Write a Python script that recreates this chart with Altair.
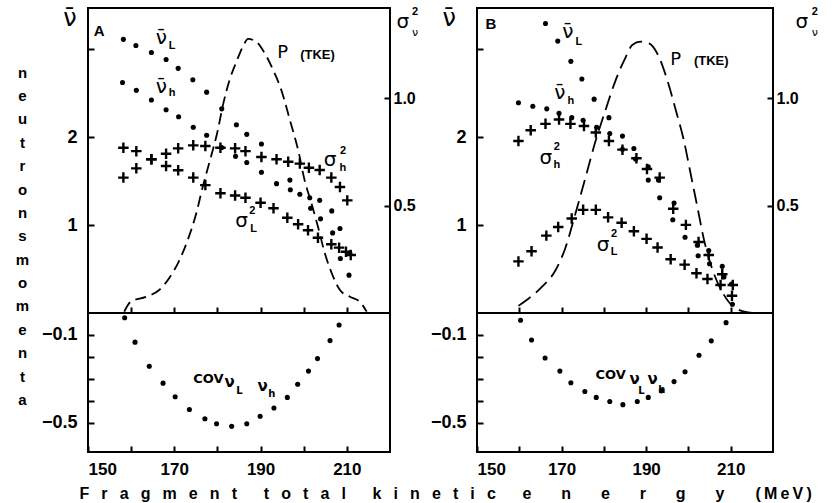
import altair as alt
import pandas as pd

# ---------------- Panel A ----------------
a_nuL_x = [158.2, 161.1, 164.7, 168.1, 170.9, 174.3, 177.5, 181.0, 184.4, 186.8, 190.2, 193.7, 196.9, 201.6, 203.9, 206.7, 208.5, 210.5]
a_nuL_y = [3.11, 3.04, 2.96, 2.88, 2.78, 2.65, 2.51, 2.32, 2.14, 2.03, 1.92, 1.47, 1.40, 1.19, 1.07, 0.91, 0.62, 0.43]
a_nuh_x = [158.0, 161.2, 164.7, 168.1, 171.0, 174.4, 177.5, 181.0, 184.2, 186.8, 190.2, 196.8, 199.1, 201.4, 203.7, 206.5, 208.4, 210.7]
a_nuh_y = [2.62, 2.53, 2.42, 2.31, 2.23, 2.11, 2.02, 1.88, 1.78, 1.71, 1.60, 1.51, 1.35, 1.31, 1.28, 1.16, 0.96, 0.68]
a_sL_x = [158.2, 161.2, 164.7, 168.1, 170.9, 174.4, 177.2, 180.7, 184.1, 186.5, 190.0, 193.0, 196.2, 198.7, 201.0, 203.3, 206.4, 208.2, 209.8, 210.9]
a_sL_y = [0.769, 0.753, 0.715, 0.684, 0.664, 0.630, 0.595, 0.557, 0.547, 0.536, 0.513, 0.487, 0.443, 0.413, 0.385, 0.350, 0.320, 0.304, 0.285, 0.270]
a_sh_x = [158.2, 161.2, 164.7, 168.1, 170.9, 174.4, 177.2, 180.7, 184.1, 186.5, 190.2, 193.7, 196.4, 199.1, 201.2, 203.7, 206.4, 208.4, 210.1]
a_sh_y = [0.630, 0.673, 0.715, 0.741, 0.766, 0.780, 0.777, 0.769, 0.766, 0.753, 0.726, 0.715, 0.704, 0.695, 0.676, 0.665, 0.630, 0.586, 0.524]
a_p_x = [158.4, 159.9, 163.4, 166.5, 168.8, 171.2, 173.1, 175.1, 176.6, 178.5, 180.1, 181.2, 182.8, 184.4, 185.9, 187.1, 189.0, 190.5, 192.9, 194.8, 196.8, 198.7, 200.2, 201.8, 203.3, 204.9, 206.5, 208.4, 210.7, 213.0, 214.6]
a_p_y = [0.005, 0.041, 0.059, 0.084, 0.127, 0.193, 0.266, 0.364, 0.461, 0.570, 0.668, 0.753, 0.850, 0.917, 0.972, 1.0, 0.990, 0.960, 0.887, 0.814, 0.704, 0.595, 0.485, 0.400, 0.315, 0.218, 0.145, 0.084, 0.059, 0.041, 0.005]
a_cov_x = [158.5, 160.9, 164.2, 167.4, 170.2, 173.5, 177.1, 179.8, 183.3, 186.8, 189.9, 193.1, 196.2, 198.6, 201.1, 203.2, 206.1, 208.2]
a_cov_y = [-0.022, -0.133, -0.243, -0.320, -0.382, -0.440, -0.482, -0.505, -0.517, -0.505, -0.471, -0.433, -0.385, -0.325, -0.265, -0.208, -0.126, -0.055]

# ---------------- Panel B ----------------
b_nuL_x = [166.2, 169.1, 172.2, 174.8, 177.7, 181.2, 184.4, 187.1, 190.5, 192.9, 196.6, 199.2, 202.1, 204.8, 208.0, 210.2]
b_nuL_y = [3.29, 3.09, 2.86, 2.66, 2.43, 2.22, 2.01, 1.87, 1.66, 1.51, 1.25, 0.86, 0.77, 0.71, 0.53, 0.33]
b_nuh_x = [159.8, 163.2, 166.5, 169.4, 172.4, 175.1, 178.3, 181.4, 184.4, 187.5, 190.5, 193.2, 196.3, 202.3, 205.0, 208.4, 210.4]
b_nuh_y = [2.39, 2.35, 2.32, 2.27, 2.22, 2.19, 2.11, 2.04, 1.86, 1.75, 1.51, 1.31, 1.06, 0.65, 0.56, 0.41, 0.10]
b_sh_x = [159.8, 162.7, 166.2, 169.4, 172.1, 175.3, 178.1, 181.2, 184.4, 187.7, 190.2, 193.2, 196.4, 199.4, 202.4, 204.8, 208.0, 210.5]
b_sh_y = [0.80, 0.85, 0.88, 0.90, 0.88, 0.87, 0.84, 0.80, 0.76, 0.72, 0.67, 0.63, 0.485, 0.41, 0.33, 0.27, 0.18, 0.13]
b_sL_x = [159.8, 162.9, 166.4, 169.2, 172.4, 175.1, 178.1, 181.0, 184.2, 187.1, 190.1, 192.7, 195.8, 199.1, 201.9, 204.5, 207.6, 210.3]
b_sL_y = [0.24, 0.287, 0.36, 0.40, 0.44, 0.48, 0.48, 0.445, 0.42, 0.38, 0.345, 0.305, 0.25, 0.225, 0.185, 0.158, 0.13, 0.08]
b_p_x = [159.8, 162.3, 165.4, 168.6, 171.0, 173.3, 175.7, 178.1, 180.4, 182.8, 185.2, 186.7, 188.7, 190.7, 192.6, 195.0, 197.0, 198.9, 200.5, 202.1, 203.7, 206.0, 208.4, 211.2, 215.1]
b_p_y = [0.026, 0.054, 0.096, 0.157, 0.242, 0.364, 0.497, 0.631, 0.741, 0.850, 0.935, 0.978, 0.990, 0.984, 0.948, 0.850, 0.741, 0.631, 0.510, 0.388, 0.266, 0.145, 0.066, 0.017, 0.0]
b_cov_x = [160.3, 162.9, 166.1, 169.6, 172.2, 175.5, 178.2, 181.4, 184.5, 187.9, 190.5, 193.6, 196.6, 199.2, 202.5, 205.4, 208.9]
b_cov_y = [-0.033, -0.123, -0.205, -0.265, -0.318, -0.358, -0.385, -0.404, -0.418, -0.404, -0.385, -0.355, -0.313, -0.268, -0.193, -0.127, -0.044]

# ---------------- Labels (text, x, nu-or-cov value, font size) ----------------
a_greek = [("ν\u0304", 145.8, 3.34, 24), ("ν\u0304", 167.0, 3.125, 20), ("ν\u0304", 167.0, 2.57, 20),
           ("σ", 206.1, 1.735, 20), ("σ", 185.6, 1.045, 20), ("σ", 223.0, 3.31, 20), ("ν", 225.8, 3.18, 11),
           ("P", 195.1, 2.955, 18)]
a_latin = [("A", 152.6, 3.20, 15), ("L", 169.5, 3.03, 11), ("h", 169.5, 2.50, 11), ("(TKE)", 203.2, 2.93, 13),
           ("2", 209.1, 1.84, 11), ("h", 209.1, 1.645, 11), ("2", 188.1, 1.16, 11), ("L", 188.4, 0.955, 11),
           ("2", 225.8, 3.42, 11)]
a_cov_lab = [("COV", 177.9, -0.301, 13), ("ν", 182.8, -0.315, 15), ("L", 185.1, -0.355, 10),
             ("ν", 190.5, -0.333, 15), ("h", 192.6, -0.369, 10)]
b_greek = [("ν\u0304", 143.4, 3.34, 24), ("ν\u0304", 171.5, 3.19, 20), ("ν\u0304", 169.6, 2.50, 20),
           ("σ", 166.3, 1.76, 20), ("σ", 179.8, 0.77, 20), ("σ", 226.8, 3.31, 20), ("ν", 229.9, 3.18, 11),
           ("P", 197.0, 2.875, 18)]
b_latin = [("B", 153.3, 3.28, 15), ("L", 174.1, 3.08, 11), ("h", 172.2, 2.41, 11), ("(TKE)", 205.4, 2.86, 13),
           ("2", 168.9, 1.89, 11), ("h", 168.9, 1.68, 11), ("2", 182.4, 0.90, 11), ("L", 182.4, 0.69, 11),
           ("2", 229.9, 3.42, 11)]
b_cov_lab = [("COV", 181.6, -0.283, 13), ("ν", 187.3, -0.301, 15), ("L", 188.9, -0.357, 10),
             ("ν", 191.5, -0.30, 15), ("h", 193.7, -0.352, 10)]

y_title_letters = ["n", "e", "u", "t", "r", "o", "n", "s", "\u00a0", "m", "o", "m", "e", "n", "t", "a"]
_nb, _thin = "\u00a0", "\u2009"
_gap = _nb * 2 + _thin
_wgap = _nb * 6
x_title = (_wgap.join(_gap.join(w) for w in ["Fragment", "total", "kinetic"]) + _wgap
           + (_nb * 6 + _thin).join("energy") + _nb * 7 + _thin.join("(MeV)"))

X_DOM = [150, 220]
NU_DOM = [0, 3.466]
SIG_DOM = [0, 1.419]
P_DOM = [0, 1.113]
COV_DOM = [-0.634, 0]
H_UP, H_LO = 305, 139
FONT = "Liberation Sans"
GREEK = "DejaVu Sans"

xscale = alt.Scale(domain=X_DOM, nice=False, zero=False)
up_x_axis = alt.Axis(values=[160, 170, 180, 190, 200, 210], labels=False, offset=-6, tickSize=6, tickWidth=2,
                     tickColor="black", domain=False, grid=False, title=None)


def lo_x_axis(title):
    kw = dict(values=[150, 160, 170, 180, 190, 200, 210],
              labelExpr="(datum.value - 150) % 20 == 0 ? datum.label : ''",
              offset=-6, tickSize=6, tickWidth=2, tickColor="black", domain=False, grid=False,
              labelPadding=9, labelFontSize=17, labelFont=FONT, labelFontWeight="bold", labelColor="black")
    if title:
        kw.update(title=title, titleAlign="left", titleAnchor="start", titleX=-9, titleY=52,
                  titleBaseline="alphabetic", titleFontSize=16, titleFont=FONT, titleFontWeight="bold",
                  titleColor="black")
    else:
        kw.update(title=None)
    return alt.Axis(**kw)


nu_axis = alt.Axis(values=[1, 2, 3], labelExpr="datum.value == 3 ? '' : datum.label", orient="left",
                   offset=-6, tickSize=6, tickWidth=2, tickColor="black", domain=False, grid=False,
                   labelPadding=11, labelFontSize=18, labelFont=FONT, labelFontWeight="bold",
                   labelColor="black", title=None)
sig_axis = alt.Axis(values=[0.5, 1.0], format=".1f", orient="right", offset=-6, tickSize=6, tickWidth=2,
                    tickColor="black", domain=False, grid=False, labelPadding=3, labelFontSize=16,
                    labelFont=FONT, labelFontWeight="bold", labelColor="black", title=None)


def cov_axis(with_title):
    kw = dict(values=[-0.1, -0.2, -0.3, -0.4, -0.5], format=".1f",
              labelExpr="(datum.value > -0.15 || datum.value < -0.45) ? datum.label : ''",
              orient="left", offset=-6, tickSize=6, tickWidth=2, tickColor="black", domain=False, grid=False,
              labelPadding=11, labelFontSize=18, labelFont=FONT, labelFontWeight="bold", labelColor="black")
    if with_title:
        kw.update(title=y_title_letters, titleAngle=0, titleAlign="center", titleBaseline="top",
                  titleX=-72, titleY=-248, titleLineHeight=23.4, titleFontSize=15, titleFont=FONT,
                  titleFontWeight="bold", titleColor="black")
    else:
        kw.update(title=None)
    return alt.Axis(**kw)


def pts(xv, yv):
    return pd.DataFrame({"x": xv, "y": yv})


def labels(rows):
    return pd.DataFrame(rows, columns=["t", "x", "y", "s"])


CROSS = "M -1 0 L 1 0 M 0 -1 L 0 1"


def panel(width, nuL, nuh, sL, sh, p, cov, greek, latin, covlab, first, dash):
    nu_scale = alt.Scale(domain=NU_DOM, nice=False, zero=False)
    X = alt.X("x:Q", scale=xscale, axis=up_x_axis)
    nu_df = pd.concat([pts(*nuL), pts(*nuh)])
    dots = alt.Chart(nu_df).mark_circle(size=26, color="black", opacity=1).encode(
        x=X, y=alt.Y("y:Q", scale=nu_scale, axis=nu_axis))
    g = alt.Chart(labels(greek)).mark_text(font=GREEK, color="black", align="center", baseline="middle").encode(
        x=X, y=alt.Y("y:Q", scale=nu_scale, axis=nu_axis), text="t:N", size=alt.Size("s:Q", scale=None))
    l = alt.Chart(labels(latin)).mark_text(font=FONT, fontWeight="bold", color="black", align="center",
                                           baseline="middle").encode(
        x=X, y=alt.Y("y:Q", scale=nu_scale, axis=nu_axis), text="t:N", size=alt.Size("s:Q", scale=None))
    inner = alt.layer(dots, g, l)
    sig_df = pd.concat([pts(*sL), pts(*sh)])
    crosses = alt.Chart(sig_df).mark_point(shape=CROSS, size=110, filled=False, strokeWidth=2.4,
                                           color="black", opacity=1).encode(
        x=X, y=alt.Y("y:Q", scale=alt.Scale(domain=SIG_DOM, nice=False, zero=False), axis=sig_axis))
    pline = alt.Chart(pts(*p)).mark_line(strokeDash=dash, strokeWidth=1.8, color="black",
                                         interpolate="monotone").encode(
        x=X, y=alt.Y("y:Q", scale=alt.Scale(domain=P_DOM, nice=False, zero=False), axis=None))
    upper = alt.layer(inner, crosses, pline).resolve_scale(y="independent").properties(width=width, height=H_UP)

    Xl = alt.X("x:Q", scale=xscale, axis=lo_x_axis(x_title if first else None))
    cov_scale = alt.Scale(domain=COV_DOM, nice=False, zero=False)
    cax = cov_axis(first)
    cdots = alt.Chart(pts(*cov)).mark_circle(size=26, color="black", opacity=1).encode(
        x=Xl, y=alt.Y("y:Q", scale=cov_scale, axis=cax))
    ctext = alt.Chart(labels(covlab)).mark_text(font=GREEK, fontWeight="bold", color="black", align="center",
                                                baseline="middle").encode(
        x=Xl, y=alt.Y("y:Q", scale=cov_scale, axis=cax), text="t:N", size=alt.Size("s:Q", scale=None))
    lower = alt.layer(cdots, ctext).properties(width=width, height=H_LO)
    return upper, lower


upA, loA = panel(302, (a_nuL_x, a_nuL_y), (a_nuh_x, a_nuh_y), (a_sL_x, a_sL_y), (a_sh_x, a_sh_y),
                 (a_p_x, a_p_y), (a_cov_x, a_cov_y), a_greek, a_latin, a_cov_lab, True, [11, 6])
upB, loB = panel(296, (b_nuL_x, b_nuL_y), (b_nuh_x, b_nuh_y), (b_sL_x, b_sL_y), (b_sh_x, b_sh_y),
                 (b_p_x, b_p_y), (b_cov_x, b_cov_y), b_greek, b_latin, b_cov_lab, False, [15, 7])

chart = alt.concat(upA, upB, loA, loB, columns=2, spacing={"row": 0, "column": 87}, bounds="flush").properties(
    padding={"left": 14, "top": 5, "right": 0, "bottom": 0}, background="white"
).configure_view(stroke="black", strokeWidth=2)

chart.save("out.html", embed_options={"renderer": "svg", "actions": False})
